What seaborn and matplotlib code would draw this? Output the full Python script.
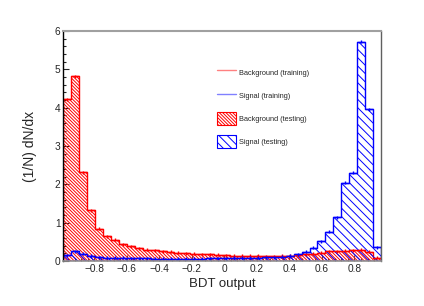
import numpy as np
import pandas as pd
import matplotlib
matplotlib.use("Agg")
import matplotlib.pyplot as plt
import seaborn as sns
from matplotlib.lines import Line2D
from matplotlib.patches import Patch
from matplotlib.ticker import MultipleLocator

# BDT output binning (40 bins as in the TMVA plot)
x_lo, x_hi, n_bins = -0.99, 0.963, 40
edges = np.linspace(x_lo, x_hi, n_bins + 1)
centers = 0.5 * (edges[:-1] + edges[1:])

bkg_test = [4.22, 4.82, 2.32, 1.32, 0.84, 0.64, 0.56, 0.44, 0.39, 0.33,
            0.30, 0.28, 0.26, 0.24, 0.22, 0.20, 0.19, 0.18, 0.17, 0.16,
            0.15, 0.14, 0.13, 0.13, 0.13, 0.12, 0.12, 0.13, 0.14, 0.15,
            0.17, 0.19, 0.22, 0.25, 0.26, 0.27, 0.28, 0.29, 0.24, 0.08]
sig_test = [0.15, 0.26, 0.19, 0.13, 0.10, 0.09, 0.08, 0.08, 0.07, 0.07,
            0.07, 0.06, 0.06, 0.06, 0.06, 0.06, 0.06, 0.06, 0.07, 0.07,
            0.07, 0.08, 0.08, 0.09, 0.09, 0.10, 0.10, 0.11, 0.13, 0.17,
            0.24, 0.35, 0.51, 0.76, 1.14, 2.04, 2.30, 5.72, 3.96, 0.36]
# training points sit on top of the testing histograms
bkg_train = list(bkg_test)
sig_train = list(sig_test)

df = pd.DataFrame({"bdt": centers, "bkg": bkg_test, "sig": sig_test})

sns.set_style("ticks")
plt.rcParams["font.family"] = ["Liberation Sans", "DejaVu Sans"]
plt.rcParams["hatch.linewidth"] = 0.7

bkg_hatch = "\\" * 10
sig_hatch = "\\" * 4

fig = plt.figure(figsize=(4.24, 3.06), dpi=100)
ax = fig.add_axes([0.1493, 0.147, 0.7493, 0.752])

sns.histplot(data=df, x="bdt", weights="bkg", bins=list(edges), element="step",
             fill=True, color="red", facecolor="none", edgecolor="red",
             hatch=bkg_hatch, linewidth=1.0, ax=ax)
sns.histplot(data=df, x="bdt", weights="sig", bins=list(edges), element="step",
             fill=True, color="blue", facecolor="none", edgecolor="blue",
             hatch=sig_hatch, linewidth=1.0, ax=ax)

half = (edges[1] - edges[0]) / 2
ax.errorbar(centers, bkg_train, xerr=half, yerr=0.04, fmt="none",
            ecolor="red", elinewidth=1.0, capsize=0)
ax.errorbar(centers, sig_train, xerr=half, yerr=0.04, fmt="none",
            ecolor="blue", elinewidth=1.0, capsize=0)

ax.set_xlim(x_lo, x_hi)
ax.set_ylim(0, 6)
ax.set_xticks([-0.8, -0.6, -0.4, -0.2, 0, 0.2, 0.4, 0.6, 0.8])
ax.set_xticklabels(["\u22120.8", "\u22120.6", "\u22120.4", "\u22120.2", "0",
                    "0.2", "0.4", "0.6", "0.8"])
ax.xaxis.set_minor_locator(MultipleLocator(0.04))
ax.yaxis.set_major_locator(MultipleLocator(1))
ax.yaxis.set_minor_locator(MultipleLocator(0.2))
ax.tick_params(which="both", direction="in", labelsize=7.3, width=0.8, pad=2)
ax.tick_params(which="major", length=4)
ax.tick_params(which="minor", length=2)
ax.tick_params(axis="x", which="both", color="#555555")

ax.set_xlabel("BDT output", fontsize=9.5)
ax.set_ylabel("(1/N) dN/dx", fontsize=10)
ax.xaxis.set_label_coords(0.5, -0.072)
ax.xaxis.label.set_va("top")
ax.yaxis.set_label_coords(-0.082, 0.5)

for side, col, lw in [("top", "#a0a0a0", 1.5), ("right", "#606060", 1.0),
                      ("bottom", "#909090", 1.2), ("left", "black", 1.0)]:
    ax.spines[side].set_visible(True)
    ax.spines[side].set_color(col)
    ax.spines[side].set_linewidth(lw)

handles = [
    Line2D([], [], color="#ff8080", lw=1.0),
    Line2D([], [], color="#8080ff", lw=1.0),
    Patch(facecolor="none", edgecolor="red", hatch=bkg_hatch, lw=0.8),
    Patch(facecolor="none", edgecolor="blue", hatch=sig_hatch, lw=0.8),
]
labels = ["Background (training)", "Signal (training)",
          "Background (testing)", "Signal (testing)"]
ax.legend(handles, labels, loc="upper left", bbox_to_anchor=(0.475, 0.86),
          frameon=False, fontsize=5.3, handlelength=2.5, handleheight=2.3,
          handletextpad=0.45, labelspacing=1.4, borderaxespad=0)

fig.savefig("out.png", dpi=100)
